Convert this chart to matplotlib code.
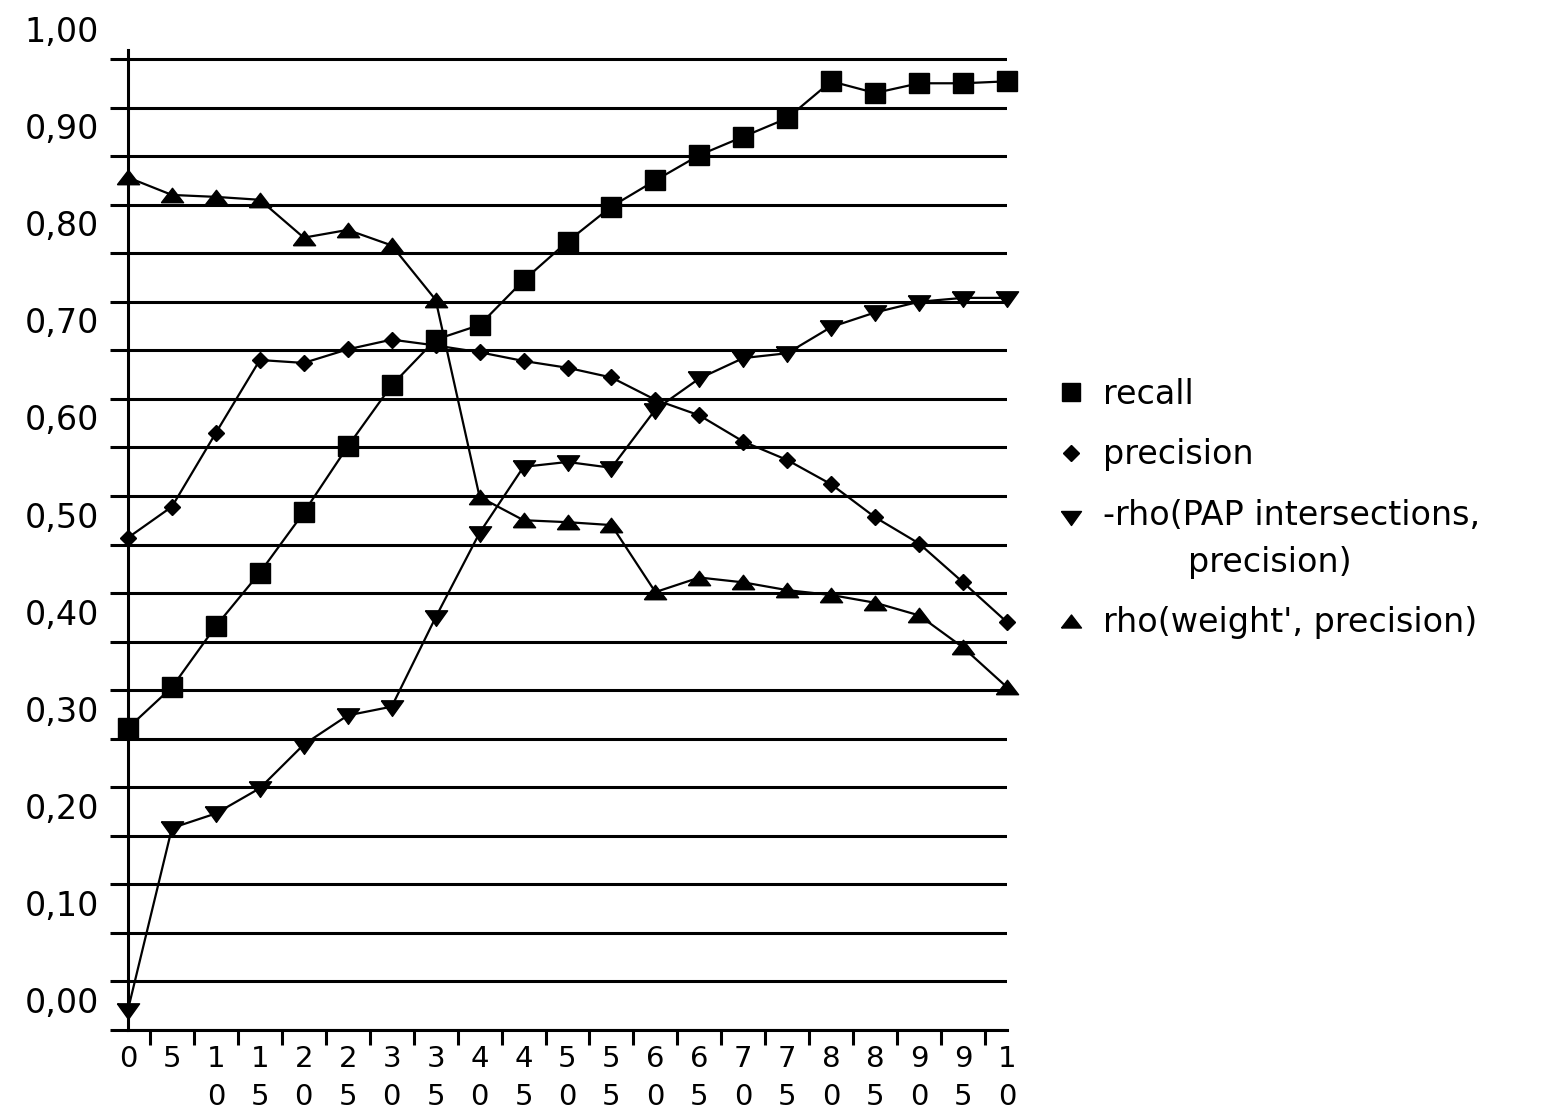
"""Recall / precision / rank correlations against threshold step (old-style line chart)."""
import numpy as np
import matplotlib
matplotlib.use("Agg")
import matplotlib.pyplot as plt
from matplotlib.lines import Line2D
from matplotlib.legend_handler import HandlerLine2D
from matplotlib.transforms import ScaledTranslation

STEPS = [0, 5, 10, 15, 20, 25, 30, 35, 40, 45, 50, 55, 60, 65, 70, 75, 80, 85, 90, 95, 100]
# the narrow category slots wrap each label after two characters ("100" -> "1" / "0")
TICK_LABELS = ["\n".join(str(s)[:2]) for s in STEPS]

RECALL = [0.311, 0.353, 0.416, 0.471, 0.533, 0.601, 0.664, 0.711, 0.726, 0.772, 0.812,
          0.848, 0.875, 0.901, 0.920, 0.939, 0.977, 0.965, 0.975, 0.975, 0.977]
PRECISION = [0.507, 0.539, 0.615, 0.690, 0.687, 0.701, 0.711, 0.705, 0.698, 0.689, 0.682,
             0.672, 0.649, 0.633, 0.606, 0.587, 0.562, 0.528, 0.501, 0.461, 0.420]
RHO_PAP = [0.021, 0.208, 0.223, 0.249, 0.294, 0.324, 0.333, 0.425, 0.512, 0.580, 0.585,
           0.579, 0.639, 0.671, 0.692, 0.697, 0.724, 0.739, 0.750, 0.754, 0.754]
RHO_WEIGHT = [0.878, 0.860, 0.858, 0.855, 0.816, 0.824, 0.808, 0.752, 0.549, 0.525, 0.523,
              0.520, 0.451, 0.466, 0.461, 0.453, 0.448, 0.440, 0.427, 0.394, 0.353]

Y_LABELS = ["0,00", "0,10", "0,20", "0,30", "0,40", "0,50", "0,60", "0,70", "0,80", "0,90", "1,00"]

# flat triangles, like the bitmap markers of the original
TRI_UP = [(-1, -0.65), (1, -0.65), (0, 0.65), (-1, -0.65)]
TRI_DOWN = [(-1, 0.6), (1, 0.6), (0, -0.8), (-1, 0.6)]

SERIES = [
    ("recall", RECALL, "s", 14.5),
    ("precision", PRECISION, "D", 8.5),
    ("-rho(PAP intersections,\n        precision)", RHO_PAP, TRI_DOWN, 16),
    ("rho(weight', precision)", RHO_WEIGHT, TRI_UP, 16),
]


class FirstLineHandler(HandlerLine2D):
    """Put the marker next to the first line of a two-line legend label."""

    def __init__(self, shift, **kw):
        super().__init__(**kw)
        self.shift = shift

    def create_artists(self, legend, orig_handle, xdescent, ydescent, width, height, fontsize, trans):
        return super().create_artists(legend, orig_handle, xdescent, ydescent - 2 * self.shift,
                                      width, height, fontsize, trans)


plt.rcParams["font.family"] = "DejaVu Sans"
FS = 23
fig = plt.figure(figsize=(15.49, 11.11), dpi=100)
ax = fig.add_axes([128 / 1549, 1 - 1030 / 1111, (1007 - 128) / 1549, (1030 - 50) / 1111])

x = np.arange(len(STEPS))
handles = []
for label, vals, marker, ms in SERIES:
    ax.plot(x, vals, color="black", lw=1.6, marker=marker, ms=ms, mfc="black", mec="black",
            clip_on=False, zorder=3)
    handles.append(Line2D([], [], ls="none", marker=marker, ms=ms * 0.9, color="black", label=label))

ax.set_xlim(0, len(STEPS) - 1)
ax.set_ylim(0, 1.0 + 9 / 971)

# y: grid every 0.05, labels every 0.1 (drawn a little above their lines, as in the original)
ax.set_yticks(np.arange(0, 1.01, 0.1))
ax.set_yticks(np.arange(0.05, 1.0, 0.1), minor=True)
ax.set_yticklabels(Y_LABELS, fontsize=FS + 1)
ax.grid(axis="y", which="both", color="black", lw=2.2)
ax.set_axisbelow(True)
ax.tick_params(axis="y", which="both", direction="out", length=13, width=2.2, pad=8)
shift = ScaledTranslation(0, 0.30, fig.dpi_scale_trans)
for t in ax.get_yticklabels():
    t.set_transform(t.get_transform() + shift)

# x: labels under categories, tick marks between them
ax.set_xticks(x)
ax.set_xticklabels(TICK_LABELS, fontsize=21, linespacing=1.45)
ax.set_xticks(x[:-1] + 0.5, minor=True)
ax.tick_params(axis="x", which="major", length=0, pad=11)
ax.tick_params(axis="x", which="minor", direction="out", length=11, width=2.2)

for side in ("top", "right"):
    ax.spines[side].set_visible(False)
for side in ("left", "bottom"):
    ax.spines[side].set_linewidth(2.2)

leg = fig.legend(handles=handles, loc="upper left", bbox_to_anchor=(1058 / 1549, 1 - 378 / 1111),
                 frameon=False, fontsize=24, handlelength=0.8, handletextpad=0.55,
                 labelspacing=0.82, borderpad=0, borderaxespad=0,
                 handler_map={handles[2]: FirstLineHandler(shift=17)})
for t in leg.get_texts():
    t.set_linespacing(1.55)

fig.savefig("out.png", dpi=100)
